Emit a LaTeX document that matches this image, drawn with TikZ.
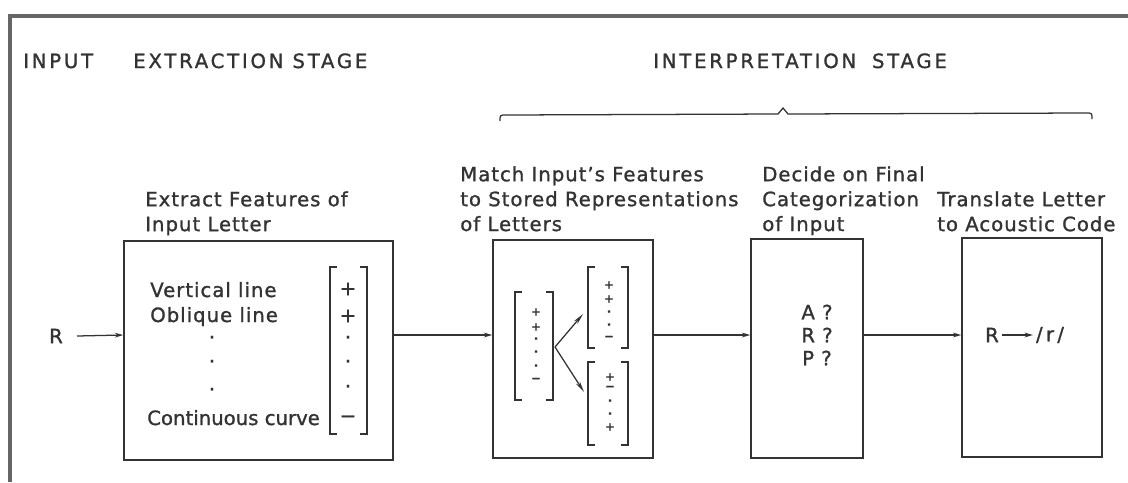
\documentclass[tikz,border=0pt]{standalone}
\usepackage{fontspec}
\setmainfont[LetterSpace=5,FakeBold=1.2]{DejaVu Sans}
\newfontfamily\headfont[LetterSpace=14,FakeBold=1.2]{DejaVu Sans}
\newfontfamily\plainfont[FakeBold=1.2]{DejaVu Sans}
\usepackage{tikz}
\colorlet{colorInk}{black!80}
\colorlet{colorFrame}{black!60}
\usetikzlibrary{arrows.meta}
\usetikzlibrary{positioning}
\tikzset{
   every path/.style={>={Stealth[length=6pt,width=3.4pt]}},
   frame/.style={draw=colorFrame,line width=2.4pt},
   stagebox/.style={draw=colorInk,line width=1pt,inner sep=0pt},
   flow/.style={->,color=colorInk,line width=0.9pt},
   fork/.style={-{Stealth[length=8pt,width=3.2pt]},color=colorInk,line width=0.9pt},
   brace/.style={draw=colorInk,line width=0.9pt},
   bracket/.style={draw=colorInk,line width=0.9pt},
   stagetitle/.style={inner sep=0pt,anchor=base west,color=colorInk,font=\headfont\fontsize{14}{17}\selectfont},
   caption/.style={align=left,inner sep=0pt,anchor=north west,color=colorInk,font=\fontsize{14}{17.7}\selectfont},
   feat/.style={inner sep=0pt,anchor=base west,color=colorInk,font=\fontsize{14}{17}\selectfont},
   entry/.style={inner sep=0pt,color=colorInk,font=\fontsize{14}{17}\selectfont},
   smallentry/.style={inner sep=0pt,color=colorInk,font=\bfseries\fontsize{8}{10}\selectfont},
}
% left and right bracket of a feature column: x left, x right, y top, y bottom
\newcommand{\featvec}[4]{%
   \draw[bracket] (#1+7,#3) -- (#1,#3) -- (#1,#4) -- (#1+7,#4);
   \draw[bracket] (#2-7,#3) -- (#2,#3) -- (#2,#4) -- (#2-7,#4);}

\begin{document}
\begin{tikzpicture}[x=0.025cm,y=-0.025cm]
        \useasboundingbox (0,0) rectangle (1128,482);
        \draw[frame] (10,482) -- (10,16) -- (1128,16);

        \node[stagetitle] (tinput) at (23,68) {INPUT};
        \node[stagetitle] (textract) at (133,68) {EXTRACTION STAGE};
        \node[stagetitle] (tinterp) at (653,68) {INTERPRETATION\hspace{0.8em}STAGE};
        \draw[brace] (500,121) .. controls (500,115) .. (506,115) -- (778,114)
                -- (783,108) -- (788,114) -- (1086,113) .. controls (1092,113) .. (1092,119);

        \node[stagebox, minimum width=6.725cm, minimum height=5.475cm] (extract) at (258.5,350.5) {};
        \node[stagebox, minimum width=4cm, minimum height=5.45cm] (match) at (573,349) {};
        \node[stagebox, minimum width=2.8cm, minimum height=5.475cm] (decide) at (807,348.5) {};
        \node[stagebox, minimum width=3.5cm, minimum height=5.475cm] (translate) at (1032,347.5) {};

        \node[caption] (cextract) at (145,191) {Extract Features of\\Input Letter};
        \node[caption] (cmatch) at (460,166) {Match Input's Features\\to Stored Representations\\of Letters};
        \node[caption] (cdecide) at (762,166) {Decide on Final\\Categorization\\of Input};
        \node[caption] (ctranslate) at (937,191) {Translate Letter\\to Acoustic Code};

        \coordinate (lvl) at (0,335);
        \node[entry] (input) at (56,336) {R};
        \draw[flow] (input) ++(21,0) -- (extract.west |- lvl);
        \draw[flow] (extract.east |- lvl) -- (match.west |- lvl);
        \draw[flow] (match.east |- lvl) -- (decide.west |- lvl);
        \draw[flow] (decide.east |- lvl) -- (translate.west |- lvl);

        % features of the input letter
        \node[feat] (vline) at (150,297) {Vertical line};
        \node[feat] (oline) at (150,322) {Oblique line};
        \foreach \y in {340,364,392}
                \node[entry] (gap\y) at (212,\y) {·};
        \node[feat, font=\plainfont\fontsize{14}{17}\selectfont] (ccurve) at (147,425) {Continuous curve};
        \featvec{330}{367}{267}{434}
        \foreach \y/\s in {289/+,316/+,340/·,364/·,389/·,419/−}
                \node[entry] (val\y) at (348,\y) {\s};

        % matching against stored letters
        \featvec{515}{553}{292}{400}
        \featvec{588}{628}{267}{348}
        \featvec{588}{628}{362}{445}
        \foreach \y/\s in {312/+,327/+,340/·,353/·,367/·,380/−}
                \node[smallentry] (in\y) at (536,\y) {\s};
        \foreach \y/\s in {285/+,299/+,313/·,326/·,338/−}
                \node[smallentry] (up\y) at (609,\y) {\s};
        \foreach \y/\s in {377/+,388/−,402/·,415/·,427/+}
                \node[smallentry] (lo\y) at (610,\y) {\s};
        \coordinate (split) at (555,347);
        \coordinate (toup) at (583,314);
        \coordinate (tolow) at (584,392);
        \draw[fork] (split) -- (toup);
        \draw[fork] (split) -- (tolow);

        % candidate letters
        \node[entry] (qa) at (817,312) {A ?};
        \node[entry] (qr) at (817,335) {R ?};
        \node[entry] (qp) at (817,358) {P ?};

        % acoustic code
        \node[entry, inner sep=2pt] (rin) at (992,335) {R};
        \node[entry, inner sep=2pt] (rout) at (1050,335) {/\,r\,/};
        \draw[flow] (rin) -- (rout);
\end{tikzpicture}
\end{document}
